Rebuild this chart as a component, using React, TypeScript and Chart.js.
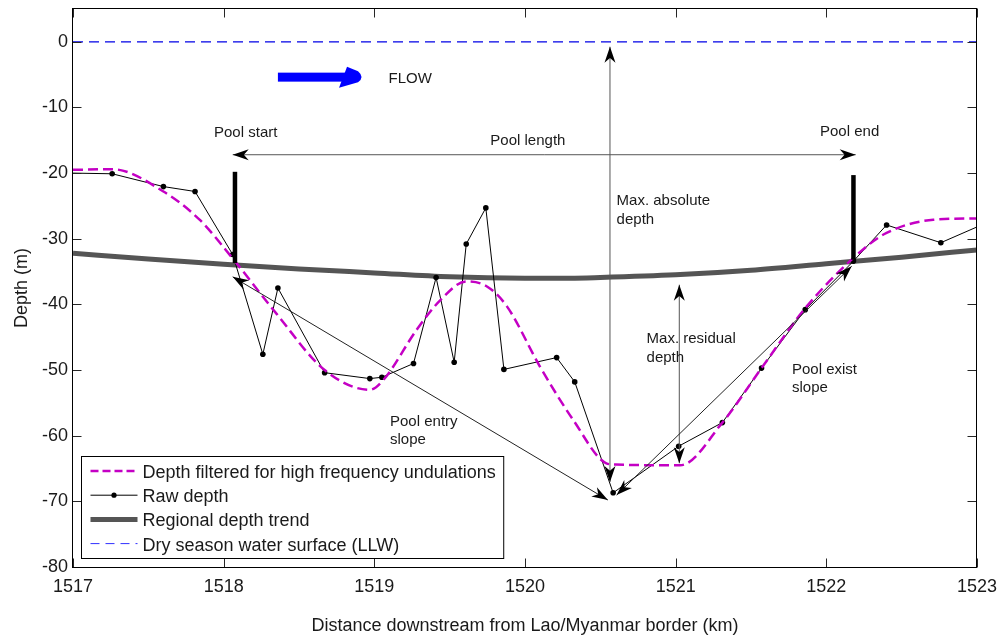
import React, { useEffect, useRef } from "react";
import { Chart, registerables } from "chart.js";

Chart.register(...registerables);

// ---------- data ----------
const xTicks = [1517, 1518, 1519, 1520, 1521, 1522, 1523];
const yTicks = [0, -10, -20, -30, -40, -50, -60, -70, -80];

const rawX = [1517, 1517.26, 1517.6, 1517.81, 1518.06, 1518.26, 1518.36, 1518.67, 1518.97, 1519.05, 1519.26, 1519.41, 1519.53, 1519.61, 1519.74, 1519.86, 1520.21, 1520.33, 1520.585, 1521.02, 1521.31, 1521.57, 1521.86, 1522.18, 1522.4, 1522.76, 1523];
const rawY = [-20, -20.1, -22.05, -22.8, -32.4, -47.6, -37.5, -50.4, -51.3, -51.1, -49, -35.9, -48.8, -30.8, -25.3, -49.9, -48.1, -51.8, -68.7, -61.6, -58.0, -49.7, -40.8, -33.4, -27.9, -30.6, -28.2];

const filtX = [1517, 1517.26, 1517.6, 1517.84, 1518.06, 1518.35, 1518.67, 1518.97, 1519.06, 1519.28, 1519.44, 1519.61, 1519.75, 1519.88, 1520.1, 1520.32, 1520.54, 1520.6, 1521.03, 1521.31, 1521.57, 1521.87, 1522.24, 1522.4, 1522.71, 1523];
const filtY = [-19.5, -19.4, -22.8, -27.1, -33.0, -41.4, -50.0, -53.0, -51.5, -43.9, -39.3, -36.5, -37.3, -40.3, -49.5, -57.6, -64.2, -64.4, -64.5, -58.0, -49.7, -40.3, -31.7, -29.1, -27.1, -26.9];

const trendX = [1517, 1517.5, 1518, 1518.5, 1519, 1519.5, 1520, 1520.3, 1520.5, 1521, 1521.5, 1522, 1522.5, 1523];
const trendY = [-32.2, -33.1, -33.9, -34.6, -35.2, -35.8, -36.0, -36.0, -35.9, -35.5, -34.8, -33.8, -32.8, -31.7];

const waterX = [1517, 1523];
const waterY = [0, 0];

const legendLabels = [
  "Depth filtered for high frequency undulations",
  "Raw depth",
  "Regional depth trend",
  "Dry season water surface (LLW)",
];

// annotation anchors (data coordinates)
const poolMarkers = [
  { x: 1518.075, y1: -19.8, y2: -33.7 },
  { x: 1522.18, y1: -20.3, y2: -33.2 },
];
const doubleArrows = [
  { x1: 1518.06, y1: -17.2, x2: 1522.195, y2: -17.2, color: "#555" },
  { x1: 1520.564, y1: -0.75, x2: 1520.564, y2: -67.05, color: "#555" },
  { x1: 1521.024, y1: -37.0, x2: 1521.024, y2: -64.2, color: "#555" },
  { x1: 1518.06, y1: -35.8, x2: 1520.55, y2: -69.8, color: "#222" },
  { x1: 1520.608, y1: -69.05, x2: 1522.168, y2: -34.2, color: "#222" },
];
const annotTexts = [
  { x: 1517.936, y: -13.87, t: "Pool start" },
  { x: 1519.77, y: -15.1, t: "Pool length" },
  { x: 1521.958, y: -13.7, t: "Pool end" },
  { x: 1520.608, y: -24.2, t: "Max. absolute" },
  { x: 1520.608, y: -27.1, t: "depth" },
  { x: 1520.807, y: -45.3, t: "Max. residual" },
  { x: 1520.807, y: -48.2, t: "depth" },
  { x: 1521.772, y: -50.0, t: "Pool exist" },
  { x: 1521.772, y: -52.7, t: "slope" },
  { x: 1519.104, y: -57.95, t: "Pool entry" },
  { x: 1519.104, y: -60.65, t: "slope" },
  { x: 1519.094, y: -5.64, t: "FLOW" },
];
const flowArrow = { x1: 1518.36, x2: 1518.925, y: -5.38 };

const FONT = '"Liberation Sans", Arial, sans-serif';
const MAGENTA = "#c400c4";

function drawHead(ctx: CanvasRenderingContext2D, tx: number, ty: number, ang: number, L = 16, W = 11) {
  const c = Math.cos(ang), s = Math.sin(ang);
  const p = (a: number, b: number) => [tx - a * c - b * s, ty - a * s + b * c];
  const [ax, ay] = p(L, W / 2);
  const [nx, ny] = p(L * 0.7, 0);
  const [bx, by] = p(L, -W / 2);
  ctx.beginPath();
  ctx.moveTo(tx, ty);
  ctx.lineTo(ax, ay);
  ctx.lineTo(nx, ny);
  ctx.lineTo(bx, by);
  ctx.closePath();
  ctx.fill();
}

const framePlugin = {
  id: "frame",
  afterDatasetsDraw(chart: any) {
    const { ctx, chartArea, scales } = chart;
    const { left, right, top, bottom } = chartArea;
    const x = scales.x, y = scales.y;
    ctx.save();
    const L = Math.round(left) - 0.5, R = Math.round(right) - 0.5;
    const T = Math.round(top) - 0.5, B = Math.round(bottom) + 0.5;
    ctx.strokeStyle = "#262626";
    ctx.lineWidth = 1;
    ctx.beginPath();
    for (const v of xTicks) {
      const px = Math.round(x.getPixelForValue(v)) + 0.5;
      ctx.moveTo(px, B); ctx.lineTo(px, B - 9);
      ctx.moveTo(px, T); ctx.lineTo(px, T + 9);
    }
    for (const v of yTicks) {
      const py = Math.round(y.getPixelForValue(v)) + 0.5;
      ctx.moveTo(L, py); ctx.lineTo(L + 9, py);
      ctx.moveTo(R, py); ctx.lineTo(R - 9, py);
    }
    ctx.stroke();
    ctx.strokeStyle = "#000";
    ctx.strokeRect(L, T, R - L, B - T);
    ctx.restore();
  },
};

const annotationPlugin = {
  id: "annots",
  afterDatasetsDraw(chart: any) {
    const { ctx, scales } = chart;
    const px = (v: number) => scales.x.getPixelForValue(v);
    const py = (v: number) => scales.y.getPixelForValue(v);
    ctx.save();
    // pool markers
    ctx.strokeStyle = "#000";
    ctx.lineWidth = 4.5;
    for (const m of poolMarkers) {
      ctx.beginPath();
      ctx.moveTo(px(m.x), py(m.y1));
      ctx.lineTo(px(m.x), py(m.y2));
      ctx.stroke();
    }
    // double arrows
    for (const a of doubleArrows) {
      const x1 = px(a.x1), y1 = py(a.y1), x2 = px(a.x2), y2 = py(a.y2);
      const ang = Math.atan2(y2 - y1, x2 - x1);
      ctx.strokeStyle = a.color;
      ctx.lineWidth = 1;
      ctx.beginPath();
      ctx.moveTo(x1, y1);
      ctx.lineTo(x2, y2);
      ctx.stroke();
      ctx.fillStyle = "#000";
      drawHead(ctx, x2, y2, ang);
      drawHead(ctx, x1, y1, ang + Math.PI);
    }
    // flow arrow
    const fx1 = px(flowArrow.x1), fx2 = px(flowArrow.x2), fy = py(flowArrow.y);
    ctx.fillStyle = "#0000ff";
    ctx.fillRect(fx1, fy - 4.5, fx2 - fx1 - 16, 9);
    ctx.beginPath();
    ctx.moveTo(fx2 - 16, fy - 10.5);
    ctx.lineTo(fx2 - 5, fy - 6);
    ctx.quadraticCurveTo(fx2 + 2, fy, fx2 - 5, fy + 5);
    ctx.lineTo(fx2 - 24, fy + 10.5);
    ctx.quadraticCurveTo(fx2 - 20, fy, fx2 - 16, fy - 10.5);
    ctx.closePath();
    ctx.fill();
    // texts
    ctx.fillStyle = "#1a1a1a";
    ctx.font = `15px ${FONT}`;
    ctx.textAlign = "left";
    ctx.textBaseline = "middle";
    for (const t of annotTexts) ctx.fillText(t.t, px(t.x), py(t.y));
    ctx.restore();
  },
};

const legendPlugin = {
  id: "customLegend",
  afterDraw(chart: any) {
    const { ctx, chartArea } = chart;
    ctx.save();
    ctx.font = `18px ${FONT}`;
    const w = Math.max(...legendLabels.map((l) => ctx.measureText(l).width));
    const bh = 102;
    const bx = Math.round(chartArea.left + 8) + 0.5;
    const by = Math.round(chartArea.bottom - 9 - bh) + 0.5;
    const bw = 61 + w + 8;
    ctx.fillStyle = "#fff";
    ctx.fillRect(bx, by, bw, bh);
    ctx.strokeStyle = "#000";
    ctx.lineWidth = 1;
    ctx.strokeRect(bx, by, bw, bh);
    const styles = [
      { c: MAGENTA, w: 2.5, d: [8, 4], dot: false },
      { c: "#000", w: 1, d: [], dot: true },
      { c: "#555", w: 5, d: [], dot: false },
      { c: "#3030ff", w: 1, d: [9, 6], dot: false },
    ];
    legendLabels.forEach((lab, i) => {
      const ry = by + 14.5 + i * 24.2;
      const st = styles[i];
      ctx.strokeStyle = st.c;
      ctx.lineWidth = st.w;
      ctx.setLineDash(st.d);
      ctx.beginPath();
      ctx.moveTo(bx + 9, ry);
      ctx.lineTo(bx + 56, ry);
      ctx.stroke();
      ctx.setLineDash([]);
      if (st.dot) {
        ctx.fillStyle = "#000";
        ctx.beginPath();
        ctx.arc(bx + 32.5, ry, 2.6, 0, Math.PI * 2);
        ctx.fill();
      }
      ctx.fillStyle = "#1a1a1a";
      ctx.textAlign = "left";
      ctx.textBaseline = "middle";
      ctx.fillText(lab, bx + 61, ry + 2);
    });
    ctx.restore();
  },
};

const pts = (xs: number[], ys: number[]) => xs.map((x, i) => ({ x, y: ys[i] }));

const zeroPad = (s: any) => {
  s.paddingTop = 0;
  s.paddingBottom = 0;
  s.paddingLeft = 0;
  s.paddingRight = 0;
};

export default function App() {
  const ref = useRef<HTMLCanvasElement | null>(null);
  useEffect(() => {
    if (!ref.current) return;
    const tickFont = { family: FONT, size: 18 };
    const chart = new Chart(ref.current, {
      type: "scatter",
      data: {
        datasets: [
          {
            label: legendLabels[0],
            data: pts(filtX, filtY),
            showLine: true,
            borderColor: MAGENTA,
            borderWidth: 2.5,
            borderDash: [10, 5],
            pointRadius: 0,
            cubicInterpolationMode: "monotone",
            order: 0,
          },
          {
            label: legendLabels[1],
            data: pts(rawX, rawY),
            showLine: true,
            borderColor: "#000",
            borderWidth: 1,
            pointRadius: rawX.map((_, i) => (i === 0 || i === rawX.length - 1 ? 0 : 2.8)),
            pointBackgroundColor: "#000",
            pointBorderWidth: 0,
            order: 1,
          },
          {
            label: legendLabels[2],
            data: pts(trendX, trendY),
            showLine: true,
            borderColor: "#555",
            borderWidth: 5,
            pointRadius: 0,
            cubicInterpolationMode: "monotone",
            order: 2,
          },
          {
            label: legendLabels[3],
            data: pts(waterX, waterY),
            showLine: true,
            borderColor: "#0000e6",
            borderWidth: 1.2,
            borderDash: [10, 6],
            pointRadius: 0,
            order: 3,
          },
        ],
      } as any,
      options: {
        responsive: false,
        animation: false,
        devicePixelRatio: 1,
        layout: { padding: { top: 9, right: 24, bottom: 0, left: 0 } },
        plugins: { legend: { display: false }, tooltip: { enabled: false } },
        scales: {
          x: {
            type: "linear",
            min: 1517,
            max: 1523,
            afterBuildTicks: (s: any) => {
              s.ticks = xTicks.map((v) => ({ value: v }));
            },
            afterFit: (s: any) => {
              s.height = 73;
              zeroPad(s);
            },
            ticks: { font: tickFont, color: "#1a1a1a", padding: 9, maxRotation: 0, callback: (v: any) => String(v) },
            grid: { display: false, drawTicks: false },
            border: { display: false },
            title: {
              display: true,
              text: "Distance downstream from Lao/Myanmar border (km)",
              font: tickFont,
              color: "#1a1a1a",
              padding: { top: 0, bottom: 3 },
            },
          },
          y: {
            type: "linear",
            min: -80,
            max: 5,
            afterBuildTicks: (s: any) => {
              s.ticks = yTicks.map((v) => ({ value: v }));
            },
            afterFit: (s: any) => {
              s.width = 73;
              zeroPad(s);
            },
            ticks: { font: tickFont, color: "#1a1a1a", padding: 5, callback: (v: any) => String(v) },
            grid: { display: false, drawTicks: false },
            border: { display: false },
            title: {
              display: true,
              text: "Depth (m)",
              font: tickFont,
              color: "#1a1a1a",
              padding: { top: 11, bottom: 0 },
            },
          },
        },
      } as any,
      plugins: [framePlugin, annotationPlugin, legendPlugin],
    });
    return () => chart.destroy();
  }, []);
  return (
    <div style={{ position: "fixed", left: 0, top: 0, width: 1001, height: 640, background: "#fff" }}>
      <canvas ref={ref} width={1001} height={640} style={{ display: "block" }} />
    </div>
  );
}
